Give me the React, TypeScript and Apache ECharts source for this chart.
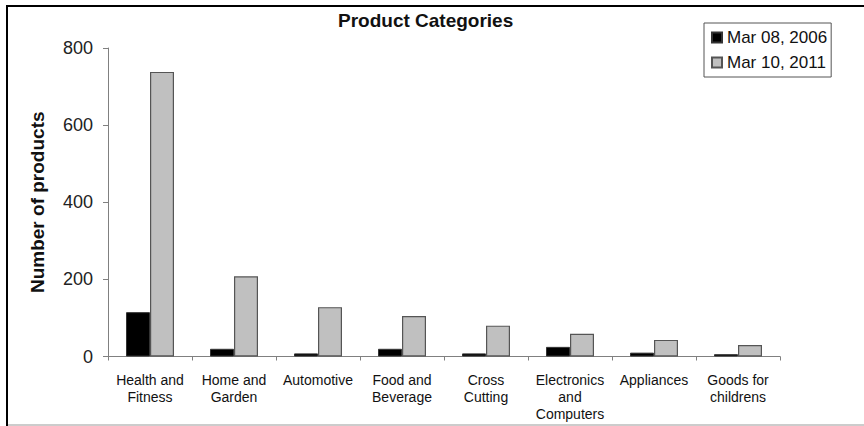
import React, { useEffect, useRef } from "react";
import * as echarts from "echarts";

const categories = [
  "Health and\nFitness",
  "Home and\nGarden",
  "Automotive",
  "Food and\nBeverage",
  "Cross\nCutting",
  "Electronics\nand\nComputers",
  "Appliances",
  "Goods for\nchildrens",
];
const series2006 = [115, 20, 8, 20, 8, 25, 10, 6];
const series2011 = [738, 208, 128, 105, 80, 59, 43, 30];
const yTicks = { min: 0, max: 800, interval: 200 };
const seriesNames = ["Mar 08, 2006", "Mar 10, 2011"];

export default function App() {
  const ref = useRef<HTMLDivElement>(null);
  useEffect(() => {
    if (!ref.current) return;
    const chart = echarts.init(ref.current, null, { renderer: "svg" });
    const font = "'Liberation Sans', Arial, sans-serif";
    chart.setOption({
      animation: false,
      backgroundColor: "#ffffff",
      textStyle: { fontFamily: font },
      title: {
        text: "Product Categories",
        left: 338,
        top: 11,
        padding: 0,
        textStyle: { fontSize: 19, fontWeight: "bold", color: "#111", fontFamily: font },
      },
      legend: {
        orient: "vertical",
        left: 704,
        top: 23,
        padding: [6, 4, 6, 7],
        itemGap: 8,
        itemWidth: 10,
        itemHeight: 10,
        icon: "rect",
        borderColor: "#555",
        borderWidth: 1,
        textStyle: { fontSize: 17, color: "#111", fontFamily: font },
        data: seriesNames,
      },
      grid: { left: 108, right: 84, top: 48, bottom: 69.5, containLabel: false },
      xAxis: {
        type: "category",
        data: categories,
        axisLine: { show: true, lineStyle: { color: "#808080", width: 1 } },
        axisTick: { show: true, length: 4, inside: false, lineStyle: { color: "#808080" } },
        axisLabel: {
          interval: 0,
          margin: 15,
          fontSize: 14,
          lineHeight: 17,
          color: "#111",
          fontFamily: font,
        },
      },
      yAxis: {
        type: "value",
        min: yTicks.min,
        max: yTicks.max,
        interval: yTicks.interval,
        name: "Number of products",
        nameLocation: "middle",
        nameRotate: 90,
        nameGap: 61,
        nameTextStyle: { fontSize: 19, fontWeight: "bold", color: "#111", fontFamily: font },
        axisLine: { show: true, lineStyle: { color: "#808080", width: 1 } },
        axisTick: { show: true, length: 5, lineStyle: { color: "#808080" } },
        splitLine: { show: false },
        axisLabel: { fontSize: 18, color: "#222", margin: 15, fontFamily: font },
      },
      series: [
        {
          name: seriesNames[0],
          type: "bar",
          data: series2006,
          barWidth: 24,
          barGap: "0%",
          itemStyle: { color: "#000000", borderColor: "#333", borderWidth: 1 },
        },
        {
          name: seriesNames[1],
          type: "bar",
          data: series2011,
          barWidth: 24,
          barGap: "0%",
          itemStyle: { color: "#c0c0c0", borderColor: "#555", borderWidth: 1.2 },
        },
      ],
      graphic: [
        { type: "line", shape: { x1: 7, y1: 6, x2: 7, y2: 426 }, style: { stroke: "#000", lineWidth: 2 } },
        { type: "line", shape: { x1: 6, y1: 6, x2: 864, y2: 6 }, style: { stroke: "#000", lineWidth: 2 } },
        { type: "line", shape: { x1: 8, y1: 425, x2: 864, y2: 425 }, style: { stroke: "#bbb", lineWidth: 1.5 } },
      ],
    });
    return () => chart.dispose();
  }, []);
  return <div ref={ref} style={{ width: 864, height: 426, position: "absolute", left: 0, top: 0 }} />;
}
